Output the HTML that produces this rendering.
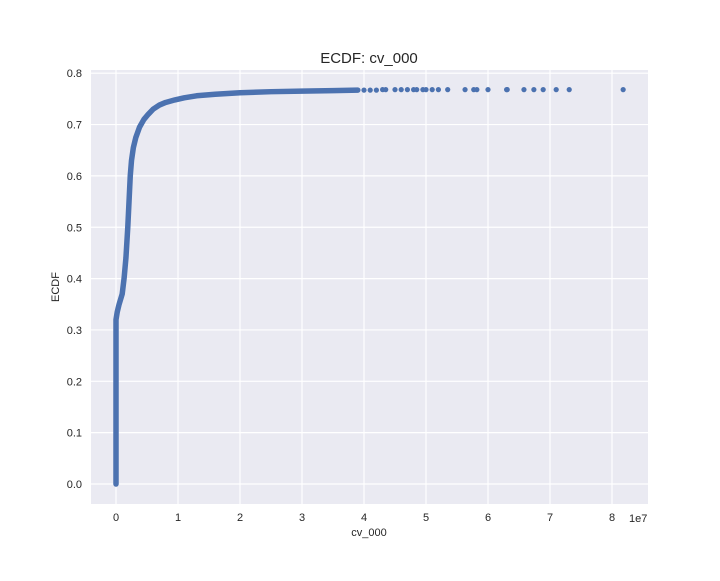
<!DOCTYPE html>
<html><head><meta charset="utf-8"><style>
body{margin:0;background:#fff;font-family:"Liberation Sans",sans-serif;}
svg text{font-family:"Liberation Sans",sans-serif;fill:#262626;}
</style></head><body>
<svg id="chart" width="720" height="576" viewBox="0 0 720 576">
<rect x="91" y="70" width="557" height="434" fill="#eaeaf2"/>
<g id="grid"></g>
<g id="series"></g>
<g id="ticks"></g>
<text x="369" y="63" text-anchor="middle" font-size="15">ECDF: cv_000</text>
<text x="369" y="536" text-anchor="middle" font-size="11">cv_000</text>
<text x="59" y="287" text-anchor="middle" font-size="11" transform="rotate(-90 59 287)">ECDF</text>
<text x="629" y="522" font-size="11">1e7</text>
</svg>
<script>
const xTicks=[0,1,2,3,4,5,6,7,8];
const yTicks=[0,0.1,0.2,0.3,0.4,0.5,0.6,0.7,0.8];
const yTickLabels=["0.0","0.1","0.2","0.3","0.4","0.5","0.6","0.7","0.8"];
// dense curve (x in units of 1e7)
const curveX=[0,0,0,0,0,0.02,0.05,0.1,0.13,0.16,0.19,0.21,0.23,0.25,0.28,0.32,0.38,0.45,0.52,0.6,0.7,0.8,0.95,1.1,1.3,1.6,2.0,2.5,3.0,3.5,3.9];
const curveY=[0,0.1,0.19,0.28,0.32,0.335,0.35,0.37,0.40,0.44,0.50,0.55,0.60,0.63,0.655,0.675,0.695,0.71,0.72,0.73,0.738,0.743,0.748,0.752,0.756,0.759,0.762,0.764,0.765,0.766,0.767];
// scattered tail points
const tailX=[4.0,4.1,4.2,4.3,4.35,4.5,4.6,4.7,4.8,4.85,4.95,5.0,5.1,5.2,5.35,5.63,5.77,5.82,6.0,6.3,6.31,6.58,6.74,6.89,7.1,7.31,8.18];
const tailY=[0.767,0.767,0.767,0.768,0.768,0.768,0.768,0.768,0.768,0.768,0.768,0.768,0.768,0.768,0.768,0.768,0.768,0.768,0.768,0.768,0.768,0.768,0.768,0.768,0.768,0.768,0.768];
const NS="http://www.w3.org/2000/svg";
function xs(v){return 116+v*62;}
function ys(v){return 484-v*513.5;}
function mk(tag,attrs,parent){const e=document.createElementNS(NS,tag);for(const k in attrs)e.setAttribute(k,attrs[k]);document.getElementById(parent).appendChild(e);return e;}
xTicks.forEach(t=>{
 const l=mk('line',{x1:xs(t),x2:xs(t),y1:70,y2:504,stroke:'#fff','stroke-width':1.2},'grid');
 
 
 const tx=mk('text',{x:xs(t),y:521,'text-anchor':'middle','font-size':11},'ticks');
 tx.textContent=t;
 
 
});
yTicks.forEach((t,i)=>{
 const l=mk('line',{x1:91,x2:648,y1:ys(t),y2:ys(t),stroke:'#fff','stroke-width':1.2},'grid');
 
 
 const tx=mk('text',{x:82,y:ys(t)+4,'text-anchor':'end','font-size':11},'ticks');
 tx.textContent=yTickLabels[i];
 
 
});
const pts=curveX.map((v,i)=>xs(v)+','+ys(curveY[i])).join(' ');
const pl=mk('polyline',{points:pts,fill:'none',stroke:'#4c72b0','stroke-width':5.5,'stroke-linecap':'round','stroke-linejoin':'round'},'series');


tailX.forEach((v,i)=>{
 const c=mk('circle',{cx:xs(v),cy:ys(tailY[i]),r:2.6,fill:'#4c72b0'},'series');
 
 
});
</script>
</body></html>
